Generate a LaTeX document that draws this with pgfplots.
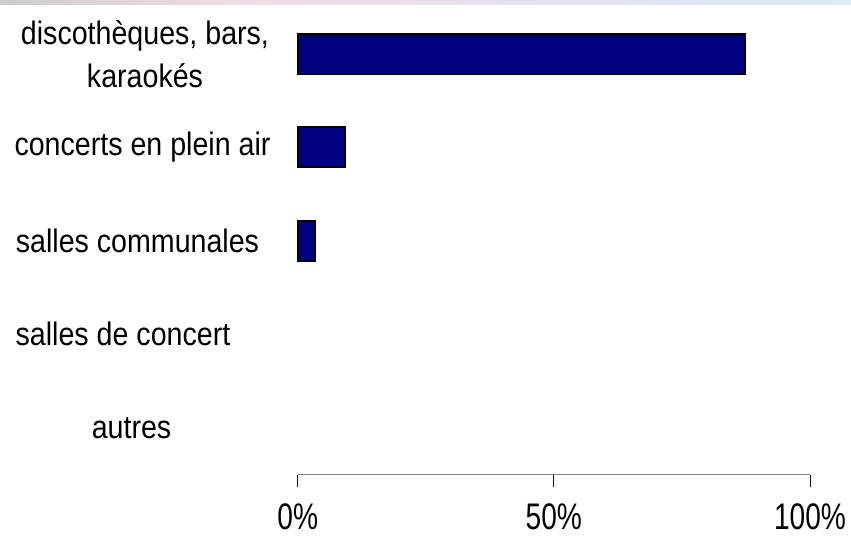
\documentclass[border=0pt]{standalone}
\usepackage{fontspec}
\setmainfont{Liberation Sans}
\newfontfamily\catfont[FakeStretch=0.88]{Liberation Sans}
\newfontfamily\tickfont[FakeStretch=0.76]{Liberation Sans}
\usepackage{pgfplots}
\pgfplotsset{compat=1.18}
\definecolor{barnavy}{RGB}{0,0,128}
\definecolor{axgray}{RGB}{128,128,128}
\definecolor{stripgray}{RGB}{205,205,205}
\definecolor{strippink}{RGB}{238,220,228}
\definecolor{stripblue}{RGB}{220,233,246}
\begin{document}
\begin{tikzpicture}[x=1pt,y=1pt]
\useasboundingbox (0,0) rectangle (851,544);
\shade[left color=stripgray, right color=strippink] (0,539) rectangle (230,544);
\shade[left color=strippink, right color=stripblue] (230,539) rectangle (851,544);
\begin{axis}[
  at={(297.7pt,69.5pt)}, anchor=south west,
  width=512.3pt, height=467.2pt, scale only axis,
  xmin=0, xmax=100, ymin=-0.5, ymax=4.5, y dir=reverse,
  xbar, bar width=40pt,
  axis x line*=bottom, axis y line=none,
  x axis line style={draw=axgray, line width=1.3pt},
  xtick={0,50,100}, xticklabels={0\%,50\%,100\%},
  tick align=outside, major tick length=12pt,
  x tick style={draw=black, line width=1pt},
  xticklabel style={font=\tickfont\fontsize{37}{37}\selectfont, yshift=-14pt},
  ytick=\empty,
  clip=false,
]
\addplot[fill=barnavy, draw=black, line width=2pt, bar shift=0pt,
  restrict x to domain=0.01:100] coordinates {
  (87.4,0) (9.3,1) (3.4,2) (0,3) (0,4)
};
\node[font=\catfont\fontsize{32.5}{43}\selectfont, align=center, xshift=-152.7pt] at (axis cs:0,0) {discothèques, bars,\\karaokés};
\node[font=\catfont\fontsize{32.5}{43}\selectfont, xshift=-155.2pt] at (axis cs:0,1) {concerts en plein air};
\node[font=\catfont\fontsize{32.5}{43}\selectfont, xshift=-160.2pt] at (axis cs:0,2) {salles communales};
\node[font=\catfont\fontsize{32.5}{43}\selectfont, xshift=-174.7pt] at (axis cs:0,3) {salles de concert};
\node[font=\catfont\fontsize{32.5}{43}\selectfont, xshift=-166.2pt] at (axis cs:0,4) {autres};
\end{axis}
\end{tikzpicture}
\end{document}
